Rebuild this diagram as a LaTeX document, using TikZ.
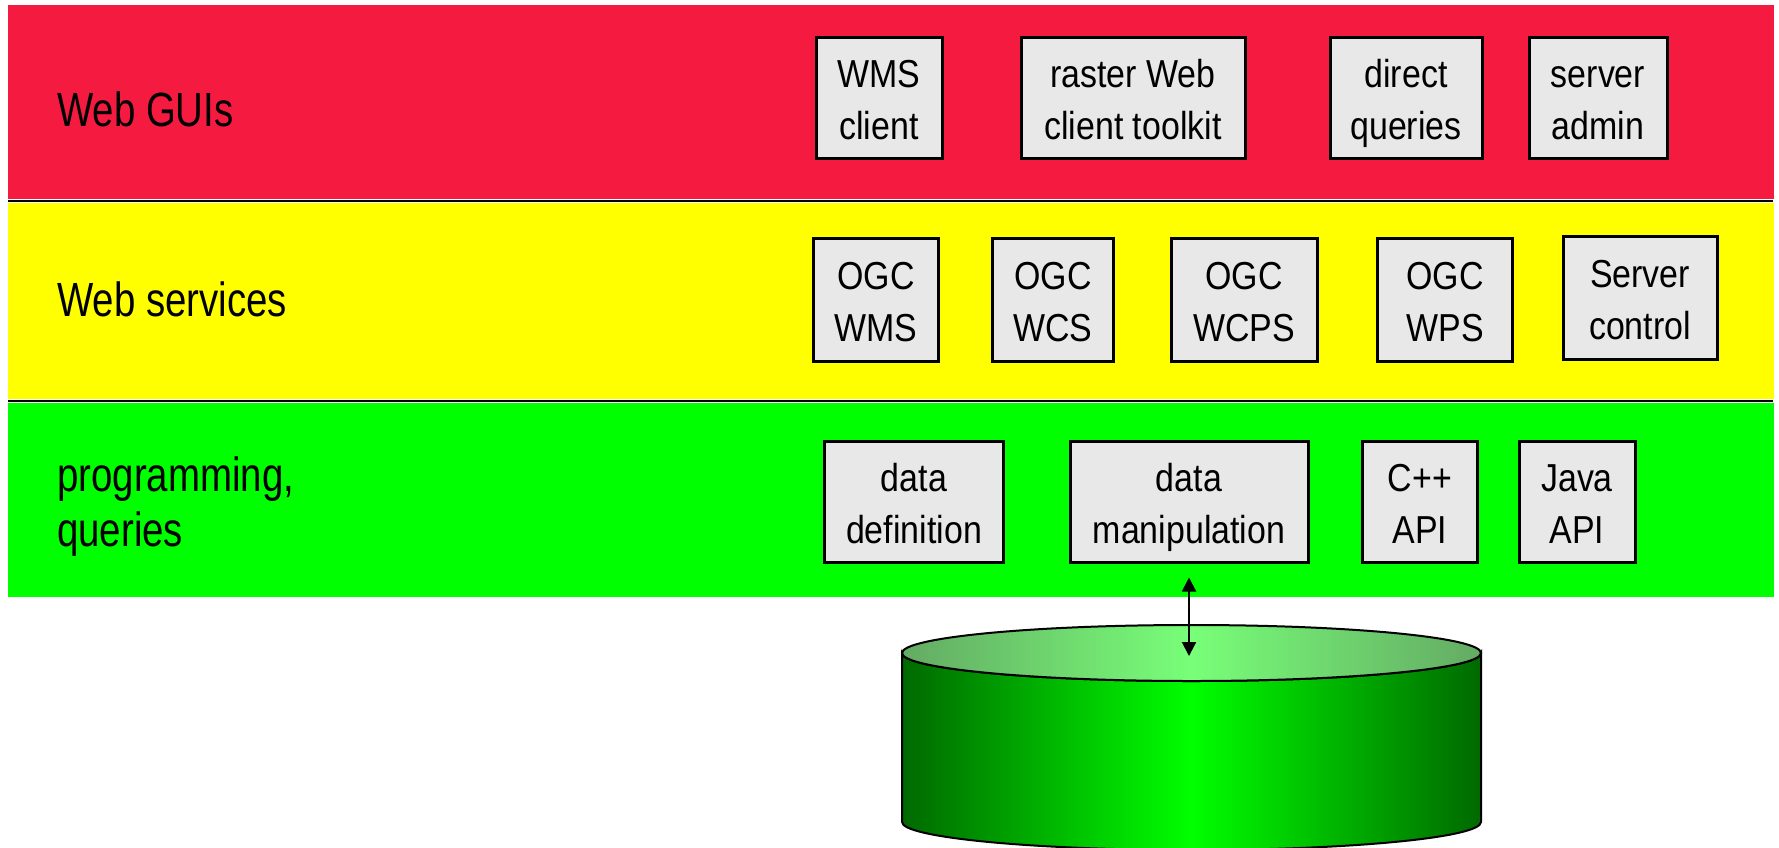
\documentclass[tikz,border=0pt]{standalone}
\usepackage{fontspec}
\setmainfont{Liberation Sans}[FakeStretch=0.87]
\newfontfamily\lblfont{Liberation Sans}[FakeStretch=0.80]
\usetikzlibrary{arrows.meta, positioning}
\definecolor{guired}{RGB}{245,27,64}
\definecolor{svcyellow}{RGB}{255,255,0}
\definecolor{proggreen}{RGB}{0,255,0}
\definecolor{boxgray}{RGB}{232,232,232}
\definecolor{dbdark}{RGB}{0,105,0}
\definecolor{dblight}{RGB}{0,255,0}
\definecolor{lidedge}{RGB}{100,170,100}
\definecolor{lidmid}{RGB}{120,255,120}
\tikzset{
  band/.style={fill=#1, anchor=north west, inner sep=0pt, minimum width=1766pt, minimum height=194pt},
  lbl/.style={anchor=west, align=left, inner sep=0pt, text height=35pt, text depth=0pt,
    font=\lblfont\fontsize{48}{55}\selectfont},
  box/.style={draw, line width=3pt, fill=boxgray, align=center, inner sep=0pt,
    text height=84pt, text depth=0pt, minimum height=121pt, font=\fontsize{39}{52}\selectfont},
  sep/.style={line width=2pt},
  arr/.style={{Triangle[length=14pt,width=14pt]}-{Triangle[length=14pt,width=14pt]}, line width=2pt},
  db/.style={line width=2pt, left color=#1, right color=#1},
}

\begin{document}
\begin{tikzpicture}[x=1pt, y=-1pt]
  \useasboundingbox (0,0) rectangle (1779,847);
  % three layers
  \node[band=guired] (gui) at (8,5) {};
  \node[band=svcyellow, minimum height=196pt] (svc) at (8,203) {};
  \node[band=proggreen] (prog) at (8,403) {};
  \draw[sep] ([yshift=-2pt]gui.south west) -- ([yshift=-2pt, xshift=-1pt]gui.south east);
  \draw[sep] ([yshift=-2pt]svc.south west) -- ([yshift=-2pt, xshift=-1pt]svc.south east);

  \node[lbl] (guilbl) at (57,108.5) {Web GUIs};
  \node[lbl] (svclbl) at (57,298.5) {Web services};
  \node[lbl] (proglbl) at (57,529.2) {programming,\\queries};

  % Web GUIs
  \node[box, minimum width=126pt] (wmscl) at (879,97.5) {WMS\\client};
  \node[box, minimum width=224pt] (raster) at (1133,97.5) {raster Web\\client toolkit};
  \node[box, minimum width=152pt] (direct) at (1406,97.5) {direct\\queries};
  \node[box, minimum width=138pt] (admin) at (1598,97.5) {server\\admin};

  % Web services
  \node[box, minimum width=125pt, minimum height=123pt] (ogcwms) at (876,299.5) {OGC\\WMS};
  \node[box, minimum width=121pt, minimum height=123pt] (ogcwcs) at (1053,299.5) {OGC\\WCS};
  \node[box, minimum width=146pt, minimum height=123pt] (ogcwcps) at (1244,299.5) {OGC\\WCPS};
  \node[box, minimum width=135pt, minimum height=123pt] (ogcwps) at (1445,299.5) {OGC\\WPS};
  \node[box, minimum width=154pt, minimum height=123pt] (srvctl) at (1640,297.5) {Server\\control};

  % programming, queries
  \node[box, minimum width=179pt] (ddef) at (914,501.5) {data\\definition};
  \node[box, minimum width=238pt] (dman) at (1189,501.5) {data\\manipulation};
  \node[box, minimum width=115pt] (cpp) at (1420,501.5) {C++\\API};
  \node[box, minimum width=116pt] (java) at (1577,501.5) {Java\\API};

  % database
  \coordinate (dbc) at (1191.5,653);
  \coordinate (dbtop) at (1189,656);
  \draw[db=dbdark, middle color=dblight]
    (902,653) -- (902,822) arc[start angle=180, end angle=0, x radius=289.5, y radius=28]
    -- (1481,653) arc[start angle=0, end angle=180, x radius=289.5, y radius=28] -- cycle;
  \draw[db=lidedge, middle color=lidmid] (dbc) ellipse[x radius=289.5, y radius=28];

  \draw[arr] ([yshift=-14pt]dman.south) -- (dbtop);
\end{tikzpicture}
\end{document}
